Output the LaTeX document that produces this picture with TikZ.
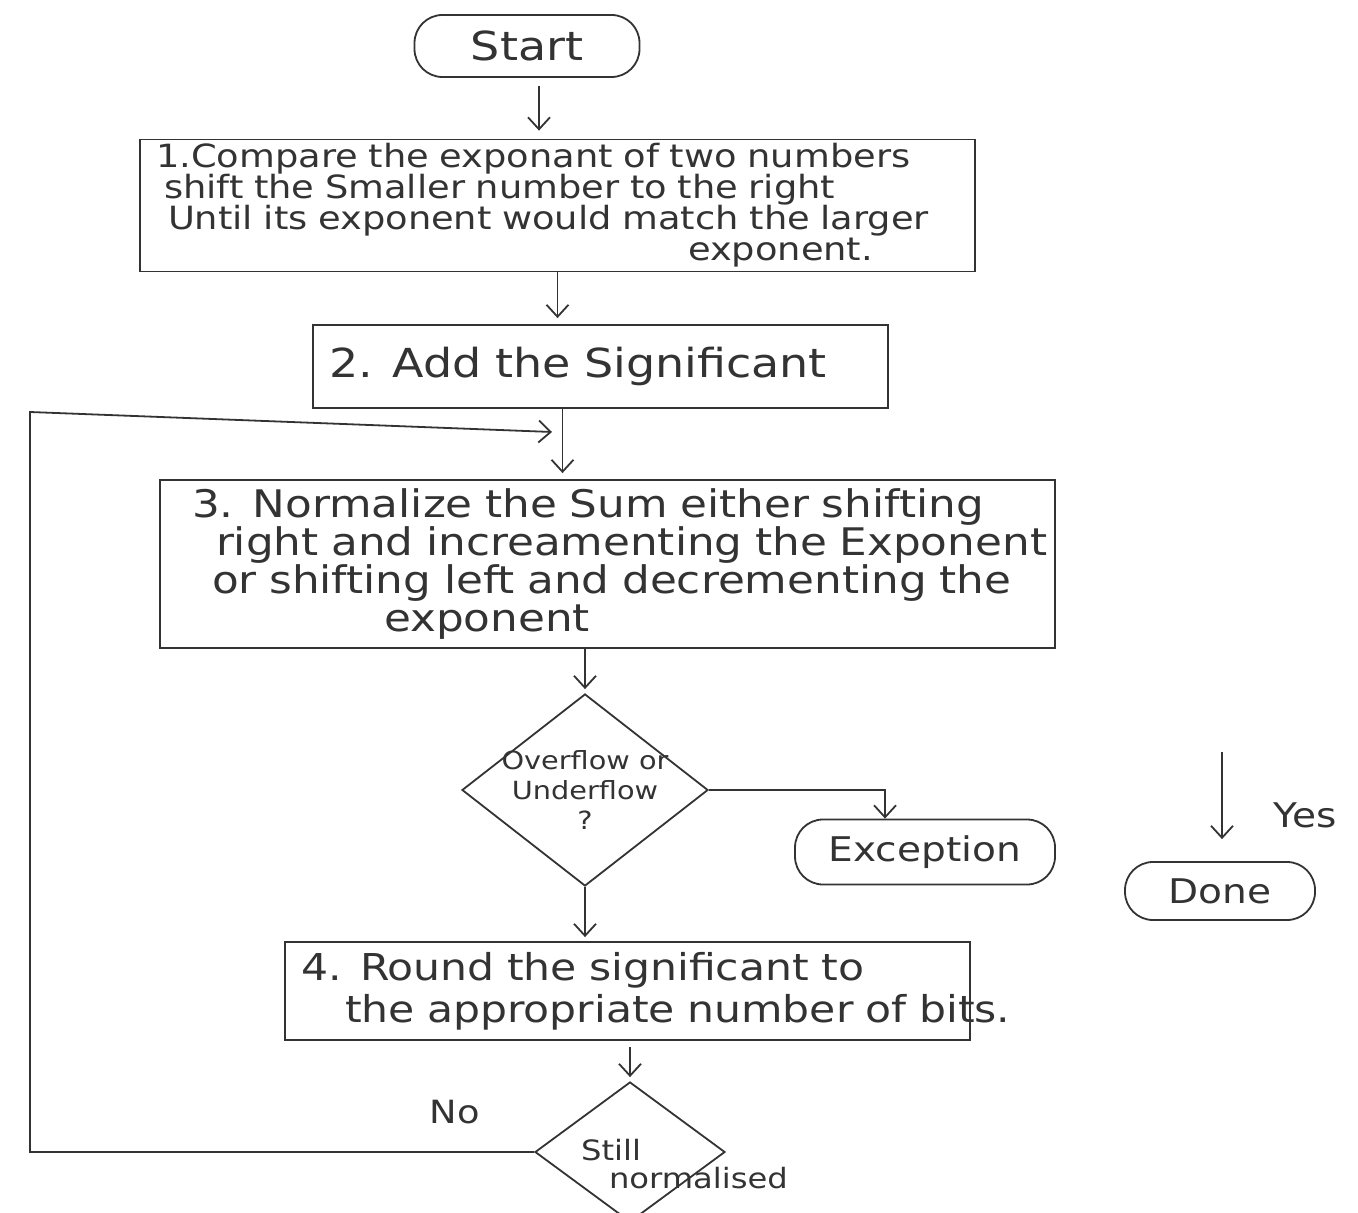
\documentclass[tikz,border=0pt]{standalone}
\usepackage{fontspec}
\setmainfont{DejaVu Sans}[FakeStretch=1.15]
\usetikzlibrary{arrows.meta,shapes.geometric}
\definecolor{pen}{HTML}{333333}
\begin{document}
\begin{tikzpicture}[x=0.5pt,y=-0.5pt,
  ink/.style={draw=pen, line width=0.9pt},
  arr/.style={ink, -{Straight Barb[length=6pt,width=11pt]}},
  txt/.style={text=pen},
  procbox/.style={ink, txt, rectangle, inner xsep=8pt, inner ysep=2pt, align=left},
  term/.style={ink, txt, rectangle, rounded corners=14pt, inner sep=2pt},
  decision/.style={ink, diamond, inner sep=0pt}
]
\useasboundingbox[fill=white] (0,0) rectangle (1358,1213);
\clip (0,0) rectangle (1358,1213);

% terminals
\node[term, minimum width=112.5pt, minimum height=31pt, font=\fontsize{20}{22}\selectfont] (start) at (527,46) {Start};
\node[term, minimum width=130pt, minimum height=32.5pt, font=\fontsize{17}{19}\selectfont] (exc) at (925,852) {Exception};
\node[term, minimum width=95pt, minimum height=29pt, font=\fontsize{17}{19}\selectfont] (done) at (1220,891) {Done};

% process steps
\node[procbox, minimum width=417.5pt, minimum height=62.5pt, text width=401.5pt, font=\fontsize{16}{15.5}\selectfont] (b1) at (557.5,205.5)
  {\mbox{1.Compare the exponant of two numbers}\\
   \mbox{\hspace*{4pt}shift the Smaller number to the right}\\
   \mbox{\hspace*{6pt}Until its exponent would match the larger}\\
   \mbox{\hspace*{266pt}exponent.}};
\node[procbox, minimum width=287.5pt, minimum height=41.5pt, text width=271.5pt, font=\fontsize{20}{22}\selectfont] (b2) at (600.5,366.5)
  {\mbox{2. Add the Significant}};
\node[procbox, inner xsep=16pt, minimum width=447.5pt, minimum height=84pt, text width=415.5pt, font=\fontsize{19}{19}\selectfont] (b3) at (607.5,564)
  {\mbox{3. Normalize the Sum either shifting}\\
   \mbox{\hspace*{12pt}right and increamenting the Exponent}\\
   \mbox{\hspace*{10pt}or shifting left and decrementing the}\\
   \mbox{\hspace*{96pt}exponent}};
\node[procbox, minimum width=342.5pt, minimum height=49pt, text width=326.5pt, font=\fontsize{18.5}{21}\selectfont] (b4) at (627.5,991)
  {\mbox{4. Round the significant to}\\
   \mbox{\hspace*{22pt}the appropriate number of bits.}};

% decisions
\node[decision, minimum width=123pt, minimum height=96pt] (d1) at (585,790) {};
\node[txt, align=center, font=\fontsize{12.5}{15}\selectfont] at (d1) {Overflow or\\Underflow\\?};
\node[decision, minimum width=95pt, minimum height=70pt] (d2) at (630,1152) {};
\node[txt, align=left, font=\fontsize{14}{14}\selectfont, anchor=west] at ([xshift=-28pt,yshift=-6pt]d2.center) {Still\\\hspace*{14pt}normalised};

% main flow
\coordinate (startout) at ([xshift=6pt]start.south);
\draw[arr, shorten <=4pt, shorten >=4pt] (startout) -- (startout |- b1.north);
\draw[arr, shorten >=3pt] (b1.south) -- (b1.south |- b2.north);
\coordinate (b2out) at ([xshift=-19pt]b2.south);
\draw[arr, shorten >=3pt] (b2out) -- (b2out |- b3.north);
\draw[arr, shorten >=2pt] (d1.north |- b3.south) -- (d1.north);
\draw[arr] (d1.east) -| ([xshift=-20pt]exc.north);
\draw[arr, shorten >=2pt] (d1.south) -- (d1.south |- b4.north);
\draw[arr, shorten <=3pt, shorten >=2pt] (d2.north |- b4.south) -- (d2.north);

% loop back when not normalised
\coordinate (loopc) at (30,412);
\coordinate (join) at (552,432);
\draw[arr] (d2.west) -| (loopc) -- (join);
\node[txt, font=\fontsize{16}{18}\selectfont] at (455,1112) {No};

% yes branch
\coordinate (yes) at (1222,752);
\draw[arr, shorten >=11pt] (yes) -- (yes |- done.north);
\node[txt, font=\fontsize{17}{19}\selectfont] at (1305,815) {Yes};
\end{tikzpicture}
\end{document}
